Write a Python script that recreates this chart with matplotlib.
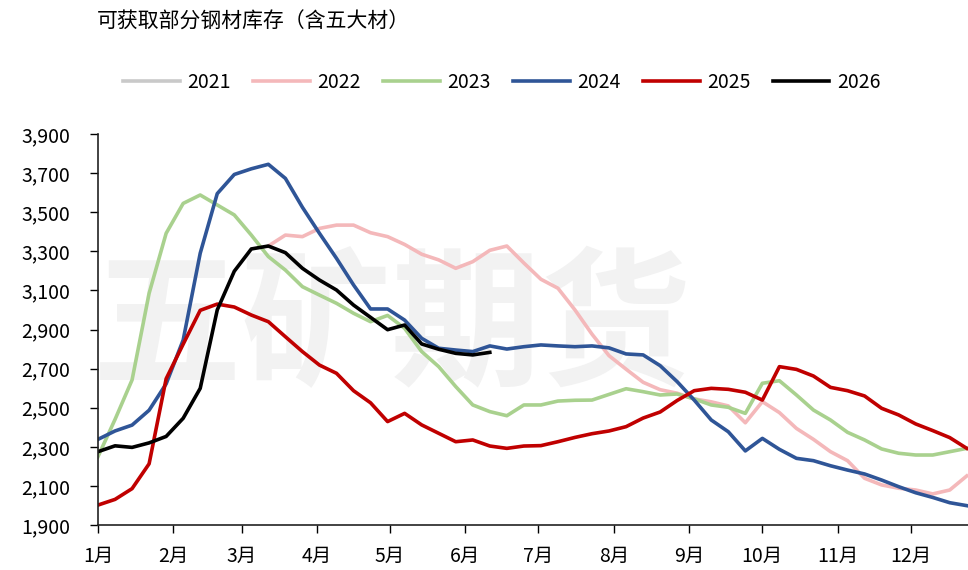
import numpy as np
import matplotlib
matplotlib.use('Agg')
import matplotlib.pyplot as plt

plt.rcParams['font.family'] = ['Noto Sans CJK SC', 'DejaVu Sans']

# 周度数据，每年52周，x轴按一年中的天数排布
weeks = np.arange(52)
days = weeks * 7
nan = np.nan

y2021 = []
y2022 = [nan] * 10 + [3327, 3383, 3375, 3417, 3434, 3434, 3395, 3375, 3335, 3285,
                      3256, 3213, 3247, 3305, 3327, 3240, 3157, 3111, 3000, 2876,
                      2766, 2697, 2630, 2592, 2574, 2545, 2530, 2509, 2423, 2531,
                      2475, 2394, 2338, 2275, 2229, 2139, 2105, 2088, 2079, 2059,
                      2079, 2151]
y2023 = [2250, 2440, 2642, 3085, 3392, 3545, 3588, 3537, 3486, 3383,
         3273, 3204, 3119, 3076, 3034, 2983, 2940, 2972, 2906, 2787,
         2710, 2608, 2514, 2480, 2459, 2514, 2514, 2534, 2538, 2539,
         2568, 2597, 2582, 2565, 2570, 2545, 2514, 2502, 2471, 2625,
         2638, 2565, 2488, 2437, 2374, 2335, 2289, 2267, 2258, 2258,
         2275, 2292]
y2024 = [2338, 2381, 2411, 2487, 2622, 2846, 3290, 3595, 3693, 3722,
         3745, 3673, 3525, 3392, 3264, 3128, 3005, 3005, 2948, 2855,
         2804, 2795, 2787, 2816, 2800, 2812, 2821, 2816, 2812, 2816,
         2806, 2775, 2770, 2715, 2633, 2539, 2437, 2377, 2279, 2343,
         2287, 2241, 2229, 2203, 2181, 2161, 2130, 2096, 2065, 2041,
         2014, 1999]
y2025 = [2002, 2031, 2086, 2213, 2648, 2825, 2998, 3030, 3015, 2974,
         2940, 2863, 2787, 2718, 2676, 2587, 2525, 2429, 2471, 2412,
         2369, 2326, 2335, 2304, 2292, 2304, 2306, 2326, 2348, 2367,
         2381, 2403, 2447, 2478, 2537, 2587, 2599, 2594, 2579, 2539,
         2710, 2696, 2662, 2604, 2587, 2560, 2497, 2463, 2417, 2383,
         2347, 2292]
y2026 = [2275, 2305, 2297, 2320, 2353, 2446, 2599, 3000, 3198, 3312,
         3327, 3293, 3213, 3153, 3102, 3025, 2962, 2899, 2923, 2826,
         2799, 2778, 2770, 2783]

years = ['2021', '2022', '2023', '2024', '2025', '2026']
series = [y2021, y2022, y2023, y2024, y2025, y2026]
colors = ['#C9C9C9', '#F4B8BA', '#A9D18E', '#2F5597', '#C00000', '#000000']

month_days = [0, 31, 59, 90, 120, 151, 181, 212, 243, 273, 304, 334]
month_labels = [f'{m}月' for m in range(1, 13)]

fig = plt.figure(figsize=(9.68, 5.70), dpi=100)
ax = fig.add_axes([98 / 968, 45 / 570, 870 / 968, 391 / 570])

# 水印，放在线条下面
ax.text(392 / 968, 1 - 330 / 570, '五矿期货', fontsize=108, fontweight='bold',
        color='#F2F2F2', ha='center', va='center', zorder=0,
        transform=fig.transFigure)

for name, vals, c in zip(years, series, colors):
    ax.plot(days[:len(vals)], vals, color=c, lw=2.6, label=name,
            solid_joinstyle='round', zorder=2)

ax.set_xlim(0, 357.5)
ax.set_ylim(1900, 3900)
ax.set_yticks(np.arange(1900, 3901, 200))
ax.yaxis.set_major_formatter(matplotlib.ticker.FuncFormatter(lambda v, p: f'{int(v):,}'))
ax.set_xticks(month_days)
ax.set_xticklabels(month_labels)
ax.tick_params(axis='y', direction='out', length=6, width=1, pad=14, labelsize=14)
ax.tick_params(axis='x', direction='out', length=6, width=1, pad=9, labelsize=14)
for s in ['top', 'right']:
    ax.spines[s].set_visible(False)
for s in ['left', 'bottom']:
    ax.spines[s].set_linewidth(1.2)
    ax.spines[s].set_color('#222222')

fig.text(97 / 968, 1 - 22 / 570, '可获取部分钢材库存（含五大材）', fontsize=15,
         ha='left', va='center')

fig.legend(loc='center', bbox_to_anchor=(502 / 968, 1 - 82 / 570), ncol=6,
           frameon=False, fontsize=14, handlelength=2.9, handletextpad=0.4,
           columnspacing=1.15)

fig.savefig('out.png', dpi=100)
